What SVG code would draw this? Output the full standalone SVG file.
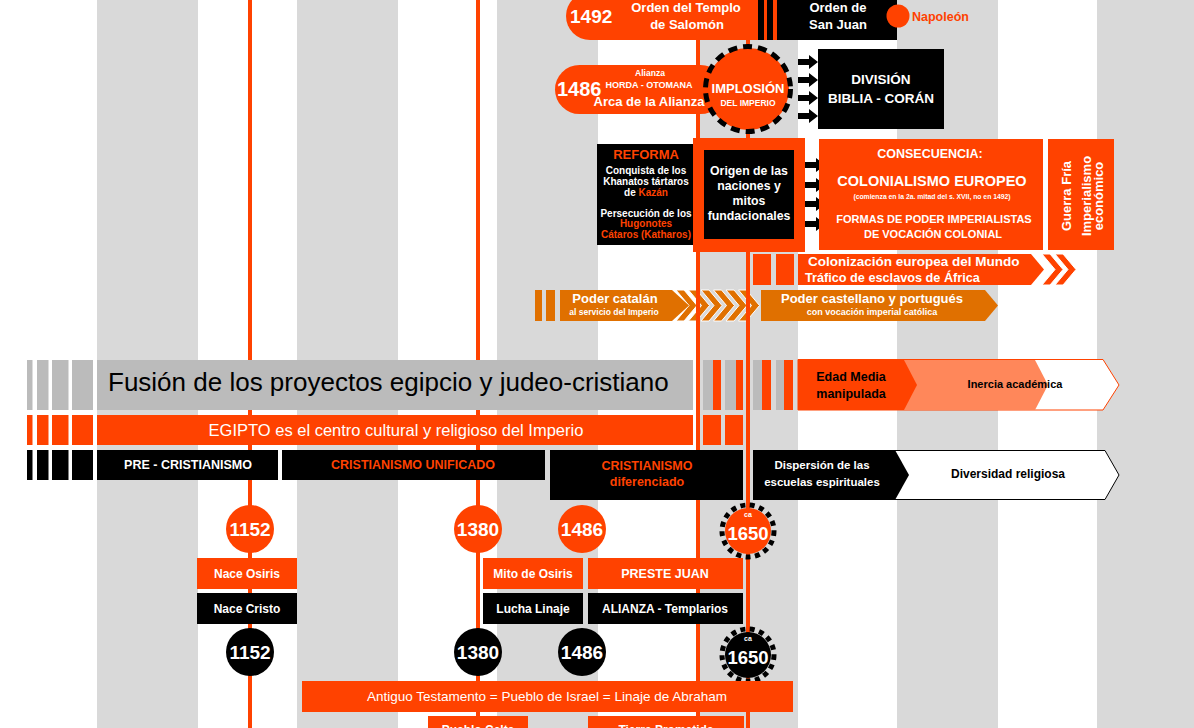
<svg xmlns="http://www.w3.org/2000/svg" width="1194" height="728" viewBox="0 0 1194 728">
<style>
.o{fill:#FF4200}.k{fill:#000}.d{fill:#E07000}.g{fill:#BBBBBB}.s{fill:#D9D9D9}.lo{fill:#FF875A}
text{font-family:"Liberation Sans",Arial,Helvetica,sans-serif}
.b{font-weight:bold}.m{text-anchor:middle}.w{fill:#fff}.tk{fill:#000}.to{fill:#FF4200}
</style>
<defs>
<polygon id="arr" points="0,-3 11,-3 11,-7 20,0 11,7 11,3 0,3" fill="#000"/>
<polygon id="chevD" points="0,0 8,0 21,15.5 8,31 0,31 13,15.5" fill="#E07000" stroke="#fff" stroke-width="1"/>
<polygon id="chevO" points="0,0 8,0 21,15.5 8,31 0,31 13,15.5" fill="#FF4200" stroke="#fff" stroke-width="1"/>
</defs>
<rect width="1194" height="728" fill="#fff"/>
<g id="stripes">
<rect class="s" x="97" y="0" width="101" height="728"/>
<rect class="s" x="297" y="0" width="101" height="728"/>
<rect class="s" x="497" y="0" width="101" height="728"/>
<rect class="s" x="697" y="0" width="101" height="728"/>
<rect class="s" x="897" y="0" width="101" height="728"/>
<rect class="s" x="1097" y="0" width="97" height="728"/>
</g>
<g id="chevrons-catalan">
<use href="#chevD" x="676" y="290"/>
<use href="#chevD" x="688.5" y="290"/>
<use href="#chevD" x="701" y="290"/>
<use href="#chevD" x="713.5" y="290"/>
<use href="#chevD" x="726" y="290"/>
<use href="#chevD" x="738.5" y="290"/>
</g>
<g id="connectors" stroke="#FF4200" stroke-width="4">
<line x1="250" y1="0" x2="250" y2="728"/>
<line x1="478" y1="0" x2="478" y2="728"/>
<line x1="698" y1="0" x2="698" y2="728"/>
<line x1="748" y1="0" x2="748" y2="728"/>
</g>
<g id="n1492">
<path class="o" d="M590,-8 H758 V40 H590 A24,24 0 0 1 566,16 A24,24 0 0 1 590,-8 Z"/>
<text class="w b" x="570" y="23" font-size="19">1492</text>
<text class="w b m" x="686" y="12" font-size="13">Orden del Templo</text>
<text class="w b m" x="687" y="29" font-size="13">de Salomón</text>
</g>
<g id="sanjuan">
<rect class="k" x="758" y="-5" width="139" height="45"/>
<rect class="o" x="764" y="-5" width="3" height="45"/>
<rect class="o" x="773" y="-5" width="4" height="45"/>
<text class="w b m" x="838" y="12" font-size="13">Orden de</text>
<text class="w b m" x="838" y="29" font-size="13">San Juan</text>
</g>
<g id="napoleon">
<circle class="o" cx="898" cy="16" r="11.5"/>
<text class="to b" x="912" y="21" font-size="12.5">Napoleón</text>
</g>
<g id="n1486top">
<rect class="o" x="555" y="65" width="170" height="49" rx="24.5"/>
<text class="w b" x="557" y="96" font-size="20">1486</text>
<text class="w b m" x="650" y="76" font-size="8.5">Alianza</text>
<text class="w b m" x="649" y="88" font-size="9">HORDA - OTOMANA</text>
<text class="w b m" x="649" y="106" font-size="13">Arca de la Alianza</text>
</g>
<g id="implosion">
<circle class="o" cx="748" cy="89" r="41"/>
<circle cx="748" cy="89" r="42.5" fill="none" stroke="#000" stroke-width="5" stroke-dasharray="9 6"/>
<text class="w b m" x="748" y="93" font-size="13">IMPLOSIÓN</text>
<text class="w b m" x="748" y="106" font-size="8.5">DEL IMPERIO</text>
</g>
<g id="arrows-top">
<use href="#arr" x="798" y="62"/>
<use href="#arr" x="798" y="80"/>
<use href="#arr" x="798" y="98"/>
<use href="#arr" x="798" y="116"/>
</g>
<g id="division">
<rect class="k" x="818" y="49" width="126" height="80"/>
<text class="w b m" x="881" y="84" font-size="13.5">DIVISIÓN</text>
<text class="w b m" x="881" y="103" font-size="13.5">BIBLIA - CORÁN</text>
</g>
<g id="reforma">
<rect class="k" x="597" y="144" width="96" height="101"/>
<text class="to b m" x="646" y="159" font-size="13">REFORMA</text>
<text class="w b m" x="646" y="174" font-size="10">Conquista de los</text>
<text class="w b m" x="646" y="185" font-size="10">Khanatos tártaros</text>
<text class="w b m" x="646" y="196" font-size="10">de <tspan class="to">Kazán</tspan></text>
<text class="w b m" x="646" y="217" font-size="10">Persecución de los</text>
<text class="to b m" x="646" y="227" font-size="10">Hugonotes</text>
<text class="to b m" x="646" y="238" font-size="10">Cátaros (Katharos)</text>
</g>
<g id="origen">
<rect class="o" x="693" y="138" width="112" height="114"/>
<rect class="k" x="704" y="150" width="90" height="89"/>
<text class="w b m" x="749" y="175" font-size="12.3">Origen de las</text>
<text class="w b m" x="749" y="190" font-size="12.3">naciones y</text>
<text class="w b m" x="749" y="205" font-size="12.3">mitos</text>
<text class="w b m" x="749" y="220" font-size="12.3">fundacionales</text>
</g>
<g id="arrows-mid">
<use href="#arr" x="805" y="165"/>
<use href="#arr" x="805" y="185"/>
<use href="#arr" x="805" y="204"/>
<use href="#arr" x="805" y="224"/>
</g>
<g id="consecuencia">
<rect class="o" x="819" y="139" width="224" height="111"/>
<text class="w b m" x="930" y="158" font-size="12.5">CONSECUENCIA:</text>
<text class="w b m" x="932" y="186" font-size="14.5">COLONIALISMO EUROPEO</text>
<text class="w b m" x="932" y="199" font-size="6.8">(comienza en la 2a. mitad del s. XVII, no en 1492)</text>
<text class="w b m" x="934" y="223" font-size="11">FORMAS DE PODER IMPERIALISTAS</text>
<text class="w b m" x="933" y="238" font-size="11">DE VOCACIÓN COLONIAL</text>
</g>
<g id="guerrafria">
<rect class="o" x="1048" y="139" width="66" height="111"/>
<text class="w b m" font-size="13" transform="translate(1071,196) rotate(-90)">Guerra Fría</text>
<text class="w b m" font-size="13" transform="translate(1091,196) rotate(-90)">Imperialismo</text>
<text class="w b m" font-size="13" transform="translate(1103,196) rotate(-90)">económico</text>
</g>
<g id="colonizacion">
<rect class="o" x="753" y="254" width="18" height="31"/>
<rect class="o" x="776" y="254" width="18" height="31"/>
<polygon class="o" points="798,254 1031,254 1044,269.5 1031,285 798,285"/>
<use href="#chevO" x="1042" y="254"/>
<use href="#chevO" x="1055" y="254"/>
<text class="w b" x="808" y="266" font-size="13.5">Colonización europea del Mundo</text>
<text class="w b" x="805" y="282" font-size="12.7">Tráfico de esclavos de África</text>
</g>
<g id="catalan">
<rect class="d" x="535" y="290" width="7" height="31"/>
<rect class="d" x="546" y="290" width="9" height="31"/>
<polygon class="d" points="560,290 672,290 689,305.5 672,321 560,321"/>
<text class="w b m" x="615" y="303" font-size="13">Poder catalán</text>
<text class="w b m" x="614" y="315" font-size="8.5">al servicio del Imperio</text>
</g>
<g id="castellano">
<polygon class="d" points="761,290 985,290 998,305.5 985,321 761,321"/>
<text class="w b m" x="872" y="303" font-size="13">Poder castellano y portugués</text>
<text class="w b m" x="872" y="315" font-size="9">con vocación imperial católica</text>
</g>
<g id="fusion">
<rect class="g" x="27" y="360" width="5.5" height="50"/>
<rect class="g" x="37" y="360" width="11.5" height="50"/>
<rect class="g" x="52" y="360" width="16.5" height="50"/>
<rect class="g" x="72" y="360" width="21" height="50"/>
<rect class="g" x="97" y="360" width="596" height="50"/>
<text class="tk" x="108" y="391" font-size="26">Fusión de los proyectos egipcio y judeo-cristiano</text>
<rect class="g" x="703" y="360" width="10" height="50"/><rect class="o" x="713" y="360" width="8" height="50"/>
<rect class="g" x="725" y="360" width="11" height="50"/><rect class="o" x="736" y="360" width="7" height="50"/>
<rect class="g" x="753" y="360" width="9" height="50"/><rect class="o" x="762" y="360" width="9" height="50"/>
<rect class="g" x="776" y="360" width="8" height="50"/><rect class="o" x="784" y="360" width="9" height="50"/>
</g>
<g id="edadmedia">
<polygon points="798,359.5 1103,359.5 1119,385 1103,410 798,410" fill="#fff" stroke="#FF4200" stroke-width="1"/>
<polygon class="lo" points="898,360 1035,360 1048,385 1035,410 898,410"/>
<polygon class="o" points="798,360 904,360 917,385 904,410 798,410"/>
<text class="tk b m" x="851" y="381" font-size="12.5">Edad Media</text>
<text class="tk b m" x="851" y="398" font-size="12.5">manipulada</text>
<text class="tk b m" x="1015" y="388" font-size="11">Inercia académica</text>
</g>
<g id="egipto">
<rect class="o" x="27" y="415" width="5.5" height="30"/>
<rect class="o" x="37" y="415" width="11.5" height="30"/>
<rect class="o" x="52" y="415" width="16.5" height="30"/>
<rect class="o" x="72" y="415" width="21" height="30"/>
<rect class="o" x="97" y="415" width="596" height="30"/>
<text class="w m" x="396" y="436" font-size="16.5">EGIPTO es el centro cultural y religioso del Imperio</text>
<rect class="o" x="703" y="415" width="18" height="30"/>
<rect class="o" x="725" y="415" width="18" height="30"/>
</g>
<g id="bars-black">
<rect class="k" x="27" y="450" width="5.5" height="30"/>
<rect class="k" x="37" y="450" width="11.5" height="30"/>
<rect class="k" x="52" y="450" width="16.5" height="30"/>
<rect class="k" x="72" y="450" width="21" height="30"/>
</g>
<g id="precristianismo">
<rect class="k" x="97" y="450" width="181" height="30"/>
<text class="w b m" x="188" y="469" font-size="12.5">PRE - CRISTIANISMO</text>
</g>
<g id="unificado">
<rect class="k" x="282" y="450" width="263" height="30"/>
<text class="to b m" x="413" y="469" font-size="12.5">CRISTIANISMO UNIFICADO</text>
</g>
<g id="diferenciado">
<rect class="k" x="550" y="450" width="193" height="50"/>
<text class="to b m" x="647" y="470" font-size="12.5">CRISTIANISMO</text>
<text class="to b m" x="647" y="486" font-size="12.5">diferenciado</text>
</g>
<g id="dispersion">
<polygon points="885,450.5 1105,450.5 1119,475 1105,499.5 885,499.5" fill="#fff" stroke="#000" stroke-width="1"/>
<polygon class="k" points="753,450 895,450 909,475 895,500 753,500"/>
<text class="w b m" x="822" y="469" font-size="11.5">Dispersión de las</text>
<text class="w b m" x="822" y="486" font-size="11.5">escuelas espirituales</text>
<text class="tk b m" x="1008" y="478" font-size="12">Diversidad religiosa</text>
</g>
<g id="c1152o"><circle class="o" cx="250" cy="529" r="24"/><text class="w b m" x="250" y="536" font-size="19">1152</text></g>
<g id="c1380o"><circle class="o" cx="478" cy="529" r="24"/><text class="w b m" x="478" y="536" font-size="19">1380</text></g>
<g id="c1486o"><circle class="o" cx="582" cy="529" r="24"/><text class="w b m" x="582" y="536" font-size="19">1486</text></g>
<g id="c1650o">
<circle class="o" cx="748" cy="531" r="23"/>
<circle cx="748" cy="531" r="26" fill="none" stroke="#000" stroke-width="5" stroke-dasharray="5 4.5"/>
<text class="w b m" x="748" y="517" font-size="7">ca</text>
<text class="w b m" x="748" y="540" font-size="18.5">1650</text>
</g>
<g id="naceosiris"><rect class="o" x="197" y="558" width="100" height="31"/><text class="w b m" x="247" y="578" font-size="12">Nace Osiris</text></g>
<g id="mitoosiris"><rect class="o" x="483" y="558" width="100" height="31"/><text class="w b m" x="533" y="578" font-size="12">Mito de Osiris</text></g>
<g id="prestejuan"><rect class="o" x="588" y="558" width="155" height="31"/><text class="w b m" x="665" y="578" font-size="12.5">PRESTE JUAN</text></g>
<g id="nacecristo"><rect class="k" x="197" y="593" width="100" height="31"/><text class="w b m" x="247" y="613" font-size="12">Nace Cristo</text></g>
<g id="luchalinaje"><rect class="k" x="483" y="593" width="100" height="31"/><text class="w b m" x="533" y="613" font-size="12">Lucha Linaje</text></g>
<g id="alianza"><rect class="k" x="588" y="593" width="155" height="31"/><text class="w b m" x="665" y="613" font-size="12">ALIANZA - Templarios</text></g>
<g id="c1152k"><circle class="k" cx="250" cy="652" r="24"/><text class="w b m" x="250" y="659" font-size="19">1152</text></g>
<g id="c1380k"><circle class="k" cx="478" cy="652" r="24"/><text class="w b m" x="478" y="659" font-size="19">1380</text></g>
<g id="c1486k"><circle class="k" cx="582" cy="652" r="24"/><text class="w b m" x="582" y="659" font-size="19">1486</text></g>
<g id="c1650k">
<circle class="k" cx="748" cy="655" r="23"/>
<circle cx="748" cy="655" r="26" fill="none" stroke="#000" stroke-width="5" stroke-dasharray="5 4.5"/>
<text class="w b m" x="748" y="641" font-size="7">ca</text>
<text class="w b m" x="748" y="664" font-size="18.5">1650</text>
</g>
<g id="antiguo">
<rect class="o" x="302" y="681" width="491" height="31"/>
<text class="w m" x="547" y="701" font-size="13.5">Antiguo Testamento = Pueblo de Israel = Linaje de Abraham</text>
</g>
<g id="pueblo"><rect class="o" x="428" y="716" width="100" height="20"/><text class="w b m" x="478" y="734" font-size="12">Pueblo Celta</text></g>
<g id="tierra"><rect class="o" x="588" y="716" width="156" height="20"/><text class="w b m" x="666" y="734" font-size="12">Tierra Prometida</text></g>
</svg>
